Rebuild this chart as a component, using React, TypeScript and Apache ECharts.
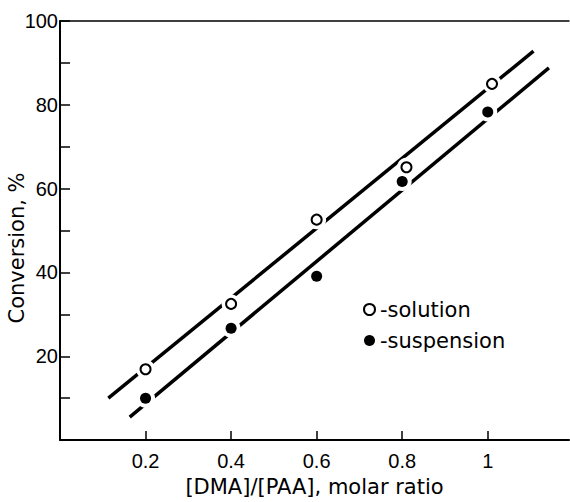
import React, { useEffect, useRef } from "react";
import * as echarts from "echarts";

// Data
const solutionRatio = [0.2, 0.4, 0.6, 0.81, 1.01];
const solutionConv = [16.9, 32.5, 52.6, 65.1, 85.0];
const suspensionRatio = [0.2, 0.4, 0.6, 0.8, 1.0];
const suspensionConv = [10.0, 26.7, 39.1, 61.7, 78.3];

// Fitted straight lines (end points)
const solutionFitX = [0.113, 1.107];
const solutionFitY = [10.0, 92.8];
const suspensionFitX = [0.163, 1.143];
const suspensionFitY = [5.5, 88.8];

// Ticks
const xTickValues = [0.2, 0.4, 0.6, 0.8, 1.0];
const xTickLabels = ["0.2", "0.4", "0.6", "0.8", "1"];
const yTickValues = [10, 20, 30, 40, 50, 60, 70, 80, 90, 100];
const yLabelValues = [20, 40, 60, 80, 100];

const zip = (xs: number[], ys: number[]) => xs.map((x, i) => [x, ys[i]]);

const TEXT_FONT = "DejaVu Sans";
const TICK_FONT = "Liberation Sans";

export default function App() {
  const ref = useRef<HTMLDivElement>(null);
  useEffect(() => {
    if (!ref.current) return;
    const chart = echarts.init(ref.current, undefined, { renderer: "svg" });
    const option: any = {
      animation: false,
      backgroundColor: "#ffffff",
      grid: { left: 60, top: 21, right: 1, bottom: 59, containLabel: false },
      xAxis: [
        {
          type: "value",
          min: 0,
          max: 1.19,
          interval: 0.2,
          position: "bottom",
          splitLine: { show: false },
          axisLine: { show: true, onZero: false, lineStyle: { color: "#000", width: 2 } },
          axisTick: {
            show: true,
            inside: true,
            length: 9,
            customValues: xTickValues,
            lineStyle: { color: "#000", width: 1.5 },
          },
          axisLabel: {
            show: true,
            customValues: xTickValues,
            margin: 11,
            color: "#000",
            fontFamily: TICK_FONT,
            fontSize: 20,
            formatter: (v: number) => {
              const i = xTickValues.findIndex((t) => Math.abs(t - v) < 1e-6);
              return i >= 0 ? xTickLabels[i] : "";
            },
          },
          name: "[DMA]/[PAA], molar ratio",
          nameLocation: "middle",
          nameGap: 34,
          nameTextStyle: { color: "#000", fontFamily: TEXT_FONT, fontSize: 21 },
        },
        {
          type: "value",
          min: 0,
          max: 1.19,
          position: "top",
          splitLine: { show: false },
          axisLine: { show: true, onZero: false, lineStyle: { color: "#000", width: 1.5 } },
          axisTick: { show: false },
          axisLabel: { show: false },
        },
      ],
      yAxis: [
        {
          type: "value",
          min: 0,
          max: 100,
          interval: 10,
          splitLine: { show: false },
          axisLine: { show: true, onZero: false, lineStyle: { color: "#000", width: 2 } },
          axisTick: {
            show: true,
            inside: true,
            length: 10,
            customValues: yTickValues,
            lineStyle: { color: "#000", width: 1.5 },
          },
          axisLabel: {
            show: true,
            customValues: yLabelValues,
            margin: 2,
            color: "#000",
            fontFamily: TICK_FONT,
            fontSize: 20,
          },
        },
      ],
      legend: {
        data: ["solution", "suspension"],
        orient: "vertical",
        left: 358,
        top: 294,
        itemWidth: 11,
        itemHeight: 11,
        itemGap: 10,
        icon: "circle",
        formatter: "-{name}",
        textStyle: { color: "#000", fontFamily: TEXT_FONT, fontSize: 21 },
      },
      graphic: [
        {
          type: "text",
          x: 17,
          y: 248,
          rotation: Math.PI / 2,
          style: {
            text: "Conversion, %",
            fill: "#000",
            font: `21px "${TEXT_FONT}"`,
            textAlign: "center",
            textVerticalAlign: "middle",
          },
        },
      ],
      series: [
        {
          name: "solutionFit",
          type: "line",
          data: zip(solutionFitX, solutionFitY),
          symbol: "none",
          silent: true,
          z: 2,
          lineStyle: { color: "#000", width: 3.5 },
        },
        {
          name: "suspensionFit",
          type: "line",
          data: zip(suspensionFitX, suspensionFitY),
          symbol: "none",
          silent: true,
          z: 2,
          lineStyle: { color: "#000", width: 3.5 },
        },
        {
          name: "solutionHalo",
          type: "scatter",
          data: zip(solutionRatio, solutionConv),
          symbol: "circle",
          symbolSize: 19,
          silent: true,
          z: 3,
          itemStyle: { color: "#fff", opacity: 1 },
        },
        {
          name: "suspensionHalo",
          type: "scatter",
          data: zip(suspensionRatio, suspensionConv),
          symbol: "circle",
          symbolSize: 19,
          silent: true,
          z: 3,
          itemStyle: { color: "#fff", opacity: 1 },
        },
        {
          name: "solution",
          type: "scatter",
          data: zip(solutionRatio, solutionConv),
          symbol: "circle",
          symbolSize: 10,
          z: 4,
          itemStyle: { color: "#fff", borderColor: "#000", borderWidth: 2, opacity: 1 },
        },
        {
          name: "suspension",
          type: "scatter",
          data: zip(suspensionRatio, suspensionConv),
          symbol: "circle",
          symbolSize: 11,
          z: 4,
          itemStyle: { color: "#000", opacity: 1 },
        },
      ],
    };
    chart.setOption(option);
    return () => chart.dispose();
  }, []);
  return (
    <div
      ref={ref}
      style={{ position: "fixed", left: 0, top: 0, width: 570, height: 502, background: "#fff" }}
    />
  );
}
